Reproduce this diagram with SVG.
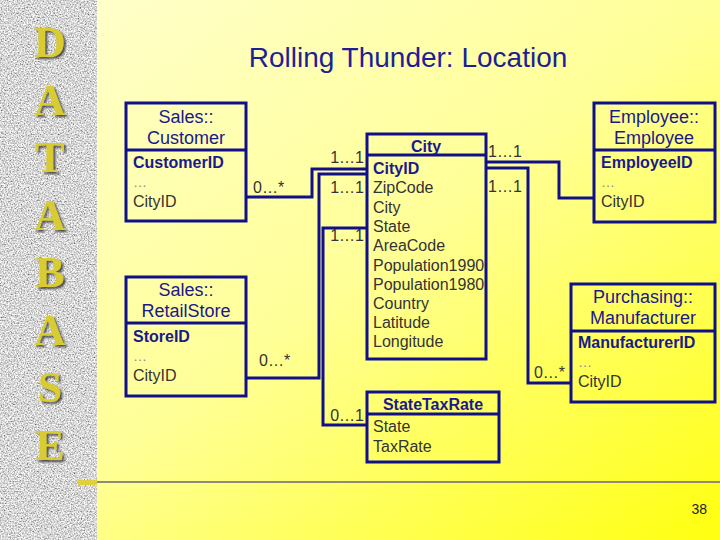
<svg xmlns="http://www.w3.org/2000/svg" width="720" height="540" viewBox="0 0 720 540">
<defs>
<linearGradient id="bg" x1="0" y1="0" x2="1" y2="1">
<stop offset="0" stop-color="#FFFFD2"/>
<stop offset="0.5" stop-color="#FFFF98"/>
<stop offset="1" stop-color="#FFFF10"/>
</linearGradient>
<filter id="granite" filterUnits="userSpaceOnUse" x="0" y="0" width="97" height="540">
<feTurbulence type="fractalNoise" baseFrequency="0.7" numOctaves="2" seed="7" result="n"/>
<feColorMatrix in="n" type="matrix" values="1.5 0 0 0 -0.07  1.5 0 0 0 -0.07  1.5 0 0 0 -0.07  0 0 0 0 1"/>
</filter>
<filter id="shadow" x="-20%" y="-20%" width="150%" height="150%">
<feDropShadow dx="2" dy="2" stdDeviation="0.8" flood-color="#3a3a3a" flood-opacity="0.9"/>
</filter>
<style>
.box{fill:none;stroke:#10108a;stroke-width:3}
.div{stroke:#10108a;stroke-width:3}
.con{fill:none;stroke:#10108a;stroke-width:3}
.hd{font-family:"Liberation Sans",Arial,sans-serif;font-size:18px;fill:#1a1a8a;text-anchor:middle}
.key{font-family:"Liberation Sans",Arial,sans-serif;font-size:16px;font-weight:bold;fill:#1a1a8a}
.at{font-family:"Liberation Sans",Arial,sans-serif;font-size:16px;fill:#333333}
.el{font-family:"Liberation Sans",Arial,sans-serif;font-size:14px;fill:#8a8a8a}
.lb{font-family:"Liberation Sans",Arial,sans-serif;font-size:16px;fill:#333333}
.big{font-family:"Liberation Serif","Times New Roman",serif;font-size:44px;font-weight:bold;fill:#D8CC30;text-anchor:middle}
</style>
</defs>
<rect x="0" y="0" width="720" height="540" fill="url(#bg)"/>
<rect x="0" y="0" width="97" height="540" fill="#999" filter="url(#granite)"/>
<rect x="78" y="480" width="19" height="5" fill="#E0D040"/>
<line x1="97" y1="482" x2="720" y2="482" stroke="#8c8c7c" stroke-width="2"/>
<g filter="url(#shadow)">
<text class="big" x="50" y="57">D</text>
<text class="big" x="50" y="115">A</text>
<text class="big" x="50" y="172">T</text>
<text class="big" x="50" y="230">A</text>
<text class="big" x="50" y="287">B</text>
<text class="big" x="50" y="345">A</text>
<text class="big" x="50" y="402">S</text>
<text class="big" x="50" y="460">E</text>
</g>
<text x="408" y="67" font-family="'Liberation Sans',Arial,sans-serif" font-size="28" fill="#1e1e96" text-anchor="middle">Rolling Thunder: Location</text>
<g id="connectors">
<polyline class="con" points="246,197 312,197 312,169 367,169"/>
<polyline class="con" points="246,378 319,378 319,174 367,174"/>
<polyline class="con" points="367,228 323,228 323,425 367,425"/>
<polyline class="con" points="486,162 559,162 559,198 594,198"/>
<polyline class="con" points="486,168 528,168 528,383 571,383"/>
<text class="lb" x="364" y="163" text-anchor="end">1…1</text>
<text class="lb" x="364" y="193" text-anchor="end">1…1</text>
<text class="lb" x="364" y="241" text-anchor="end">1…1</text>
<text class="lb" x="364" y="421" text-anchor="end">0…1</text>
<text class="lb" x="253" y="193">0…*</text>
<text class="lb" x="259" y="366">0…*</text>
<text class="lb" x="488" y="157">1…1</text>
<text class="lb" x="488" y="192">1…1</text>
<text class="lb" x="565" y="378" text-anchor="end">0…*</text>
</g>
<g id="customer">
<rect class="box" x="126" y="103" width="120" height="118"/>
<line class="div" x1="126" y1="150" x2="246" y2="150"/>
<text class="hd" x="186" y="123">Sales::</text>
<text class="hd" x="186" y="144">Customer</text>
<text class="key" x="133" y="168">CustomerID</text>
<text class="el" x="133" y="187">…</text>
<text class="at" x="133" y="207">CityID</text>
</g>
<g id="retailstore">
<rect class="box" x="126" y="277" width="120" height="119"/>
<line class="div" x1="126" y1="323" x2="246" y2="323"/>
<text class="hd" x="186" y="296">Sales::</text>
<text class="hd" x="186" y="317">RetailStore</text>
<text class="key" x="133" y="342">StoreID</text>
<text class="el" x="133" y="361">…</text>
<text class="at" x="133" y="381">CityID</text>
</g>
<g id="city">
<rect class="box" x="367" y="134" width="119" height="225"/>
<line class="div" x1="367" y1="155" x2="486" y2="155"/>
<text class="key" x="426" y="152" text-anchor="middle">City</text>
<text class="key" x="373" y="174">CityID</text>
<text class="at" x="373" y="193">ZipCode</text>
<text class="at" x="373" y="213">City</text>
<text class="at" x="373" y="232">State</text>
<text class="at" x="373" y="251">AreaCode</text>
<text class="at" x="373" y="271">Population1990</text>
<text class="at" x="373" y="290">Population1980</text>
<text class="at" x="373" y="309">Country</text>
<text class="at" x="373" y="328">Latitude</text>
<text class="at" x="373" y="347">Longitude</text>
</g>
<g id="statetaxrate">
<rect class="box" x="367" y="392" width="132" height="70"/>
<line class="div" x1="367" y1="414" x2="499" y2="414"/>
<text class="key" x="433" y="410" text-anchor="middle" font-size="17">StateTaxRate</text>
<text class="at" x="373" y="432">State</text>
<text class="at" x="373" y="452">TaxRate</text>
</g>
<g id="employee">
<rect class="box" x="594" y="103" width="121" height="119"/>
<line class="div" x1="594" y1="150" x2="715" y2="150"/>
<text class="hd" x="654" y="123">Employee::</text>
<text class="hd" x="654" y="144">Employee</text>
<text class="key" x="601" y="168">EmployeeID</text>
<text class="el" x="601" y="187">…</text>
<text class="at" x="601" y="207">CityID</text>
</g>
<g id="manufacturer">
<rect class="box" x="571" y="284" width="144" height="118"/>
<line class="div" x1="571" y1="331" x2="715" y2="331"/>
<text class="hd" x="643" y="303">Purchasing::</text>
<text class="hd" x="643" y="324">Manufacturer</text>
<text class="key" x="578" y="348">ManufacturerID</text>
<text class="el" x="578" y="367">…</text>
<text class="at" x="578" y="387">CityID</text>
</g>
<text x="707" y="514" font-family="'Liberation Sans',Arial,sans-serif" font-size="14" fill="#222" text-anchor="end">38</text>
</svg>
